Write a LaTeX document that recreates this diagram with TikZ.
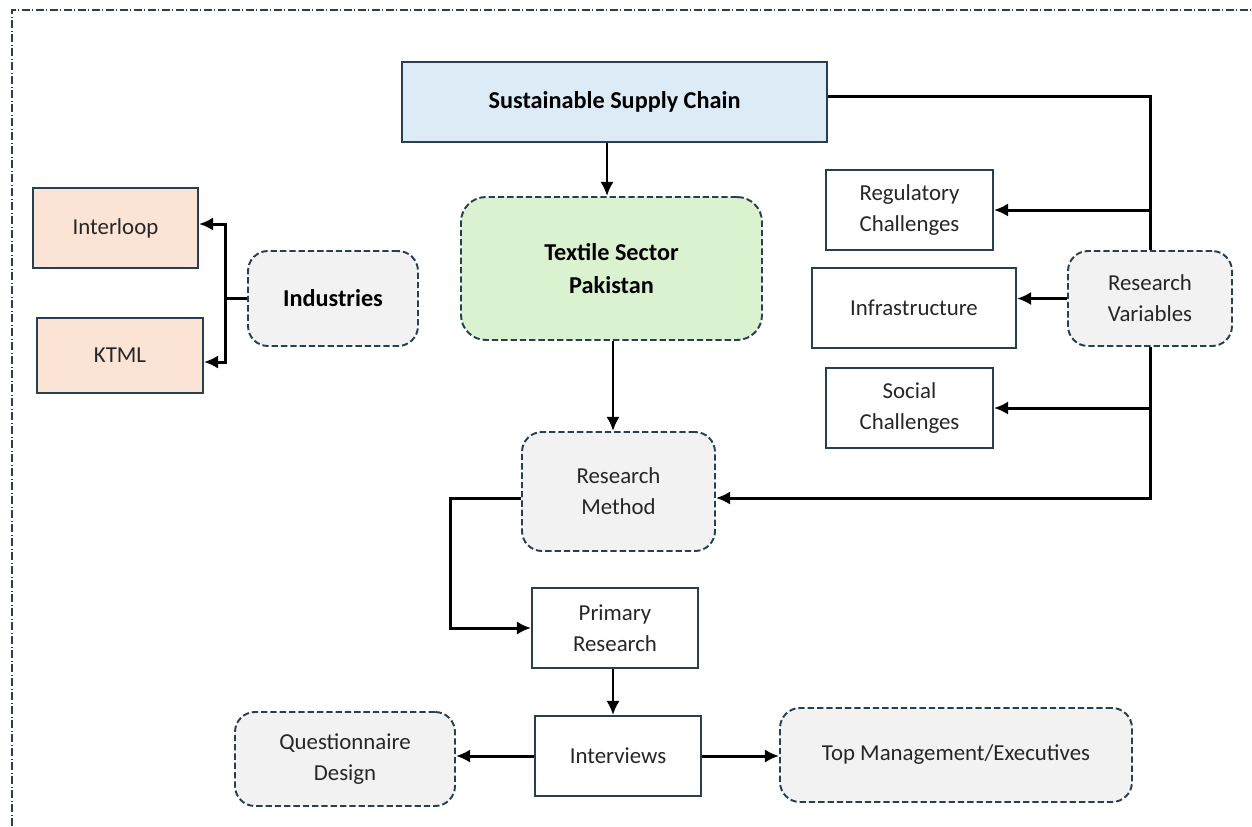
\documentclass[tikz,border=0pt]{standalone}
\usepackage{fontspec}
\setmainfont{Carlito}
\usetikzlibrary{arrows.meta}
\definecolor{edgeslate}{RGB}{38,64,82}
\definecolor{chainblue}{RGB}{221,235,247}
\definecolor{sectorgreen}{RGB}{218,242,208}
\definecolor{millpeach}{RGB}{251,227,214}
\definecolor{boxgray}{RGB}{242,242,242}
\definecolor{inktext}{RGB}{38,38,38}

\begin{document}
\begin{tikzpicture}[x=0.02cm, y=-0.02cm,
  every node/.style={text=inktext, align=center, font=\fontsize{13}{17.6}\selectfont},
  plainbox/.style={draw=edgeslate, line width=1.1pt, fill=white},
  roundbox/.style={draw=edgeslate, line width=1.1pt, dash pattern=on 3.6pt off 1.7pt,
    rounded corners=0.4cm, fill=boxgray},
  conn/.style={line width=1.7pt, -{Latex[length=8pt,width=7.5pt]}},
  joint/.style={line width=1.7pt}]

  \newcommand\PX{0.02cm}

  \useasboundingbox (0,0) rectangle (1252,826);

  % frame round the page
  \draw[edgeslate, line width=0.6pt, dash pattern=on 0.16cm off 0.05cm on 0.02cm off 0.05cm]
  (12,826) -- (12,10) -- (1252,10);

  % top of the chain
  \node[plainbox, fill=chainblue, text=black, minimum width=425*\PX, minimum height=80*\PX,
    font=\fontsize{13.8}{17.6}\selectfont\bfseries] (chain) at (614.5,102) {Sustainable Supply Chain};
  \node[roundbox, fill=sectorgreen, rounded corners=0.5cm, text=black, minimum width=301*\PX,
    minimum height=143*\PX, font=\fontsize{13.8}{19}\selectfont\bfseries] (sector) at (611.5,268.5)
    {Textile Sector\\Pakistan};

  % industries
  \node[plainbox, fill=millpeach, minimum width=165*\PX, minimum height=80*\PX] (interloop) at (115.5,228) {Interloop};
  \node[plainbox, fill=millpeach, minimum width=166*\PX, minimum height=75*\PX] (ktml) at (120,355.5) {KTML};
  \node[roundbox, text=black, minimum width=170*\PX, minimum height=95*\PX,
    font=\fontsize{13.8}{17.6}\selectfont\bfseries] (industries) at (333,298.5) {Industries};

  % research variables
  \node[plainbox, minimum width=167*\PX, minimum height=80*\PX] (regul) at (909.5,210) {Regulatory\\Challenges};
  \node[plainbox, minimum width=204*\PX, minimum height=80*\PX] (infra) at (914,308) {Infrastructure};
  \node[plainbox, minimum width=167*\PX, minimum height=80*\PX] (social) at (909.5,408) {Social\\Challenges};
  \node[roundbox, minimum width=164*\PX, minimum height=95*\PX] (variables) at (1150,298.5) {Research\\Variables};

  % method
  \node[roundbox, minimum width=193*\PX, minimum height=119*\PX] (method) at (618.5,491.5) {Research\\Method};
  \node[plainbox, minimum width=166*\PX, minimum height=80*\PX] (primary) at (615,628) {Primary\\Research};
  \node[plainbox, minimum width=166*\PX, minimum height=80*\PX] (interviews) at (618,756) {Interviews};
  \node[roundbox, minimum width=220*\PX, minimum height=94*\PX] (questions) at (345,759) {Questionnaire\\Design};
  \node[roundbox, minimum width=352*\PX, minimum height=94*\PX] (managers) at (956,755) {Top Management/Executives};

  \draw[conn] (chain.south -| 607,0) -- (sector.north -| 607,0);
  \draw[joint] (chain.east |- 0,96) -| (variables.north);
  \draw[conn] (variables.north |- regul.east) -- (regul.east);
  \draw[conn] (variables.west) -- (variables.west -| infra.east);
  \draw[conn] (variables.south) |- ([yshift=-6.5*\PX]method.east);
  \draw[conn] (variables.south |- social.east) -- (social.east);

  \draw[joint] (industries.west) -- ++(-22,0) coordinate (fork);
  \draw[conn] (fork) |- ([yshift=4*\PX]interloop.east);
  \draw[conn] (fork) |- ([yshift=-6.5*\PX]ktml.east);

  \draw[conn] (sector.south -| 613,0) -- (method.north -| 613,0);
  \draw[conn] ([yshift=-6.5*\PX]method.west) -- ++(-71,0) |- (primary.west);
  \draw[conn] (primary.south -| 613,0) -- (interviews.north -| 613,0);
  \draw[conn] (interviews.west) -- (interviews.west -| questions.east);
  \draw[conn] (interviews.east) -- (interviews.east -| managers.west);

\end{tikzpicture}
\end{document}
